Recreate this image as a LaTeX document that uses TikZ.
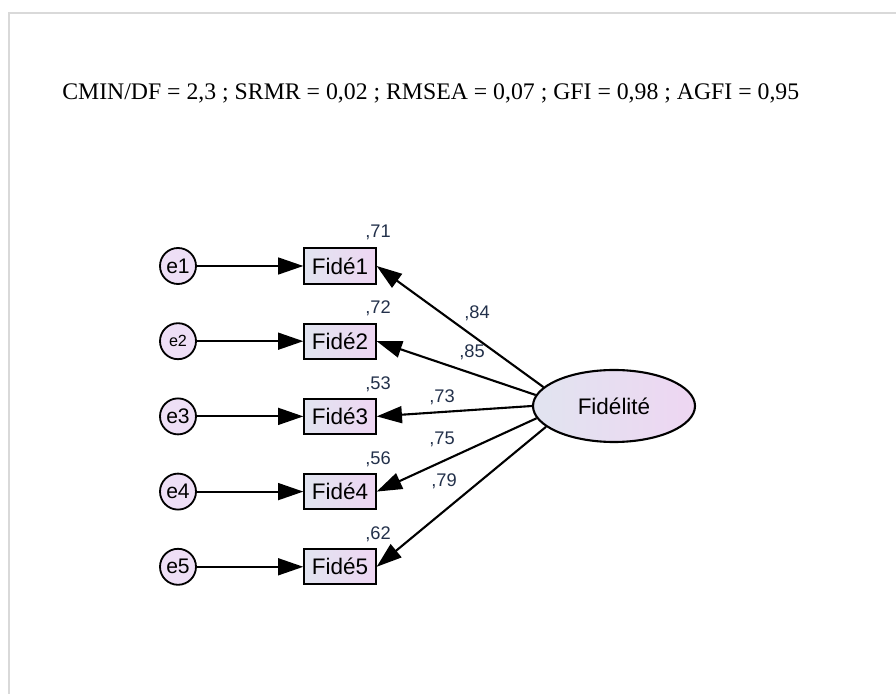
\documentclass[tikz,border=0pt]{standalone}
\usepackage{fontspec}
\setmainfont{Liberation Serif}
\newfontfamily\amosfont{Liberation Sans}
\usetikzlibrary{arrows.meta,shapes.geometric}
\definecolor{framegray}{HTML}{D9D9D9}
\definecolor{boxleft}{HTML}{E1E4F0}
\definecolor{boxright}{HTML}{EED6F2}
\definecolor{errfill}{HTML}{EEDFF6}
\definecolor{numcol}{HTML}{22304A}
\begin{document}
\begin{tikzpicture}[
    obs/.style={draw, line width=1.5pt, rectangle, minimum width=1.78cm, minimum height=0.88cm,
      left color=boxleft, right color=boxright, inner sep=0pt, font=\amosfont\fontsize{16}{17}\selectfont},
    err/.style={draw, line width=1.3pt, circle, minimum size=0.9cm, inner sep=0pt,
      fill=errfill, font=\amosfont\fontsize{15}{16}\selectfont},
    lat/.style={draw, line width=1.5pt, ellipse, minimum width=4.05cm, minimum height=1.8cm,
      left color=boxleft, right color=boxright, font=\amosfont\fontsize{16}{17}\selectfont},
    num/.style={inner sep=0pt, text=numcol, font=\amosfont\fontsize{13}{14}\selectfont},
    path/.style={line width=1.5pt, -{Triangle[length=18pt,width=12pt]}}]
    \useasboundingbox (0,0) rectangle (22.4,17.35);
    \draw[framegray, line width=1.6pt] (0.225,0) -- (0.225,17.025) -- (22.4,17.025);
    \node[anchor=base west, inner sep=0pt, font=\fontsize{16.9}{18}\selectfont] (fit) at (1.55,14.85)
      {CMIN/DF = 2,3 ; SRMR = 0,02 ; RMSEA = 0,07 ; GFI = 0,98 ; AGFI = 0,95};
    % indicateurs
    \node[obs] (f1) at (8.5,10.7) {Fidé1}; \node[err] (e1) at (4.45,10.7) {e1};
    \node[obs] (f2) at (8.5,8.82) {Fidé2}; \node[err, font=\amosfont\fontsize{11.5}{12}\selectfont] (e2) at (4.45,8.82) {e2};
    \node[obs] (f3) at (8.5,6.94) {Fidé3}; \node[err] (e3) at (4.45,6.94) {e3};
    \node[obs] (f4) at (8.5,5.06) {Fidé4}; \node[err] (e4) at (4.45,5.06) {e4};
    \node[obs] (f5) at (8.5,3.18) {Fidé5}; \node[err] (e5) at (4.45,3.18) {e5};
    \node[lat] (fid) at (15.35,7.2) {Fidélité};
    % R2
    \node[num] (r1) at (9.45,11.55) {,71};
    \node[num] (r2) at (9.45,9.65) {,72};
    \node[num] (r3) at (9.45,7.75) {,53};
    \node[num] (r4) at (9.45,5.875) {,56};
    \node[num] (r5) at (9.45,4.0) {,62};
    % saturations
    \node[num] (l1) at (11.925,9.525) {,84};
    \node[num] (l2) at (11.8,8.55) {,85};
    \node[num] (l3) at (11.05,7.425) {,73};
    \node[num] (l4) at (11.05,6.375) {,75};
    \node[num] (l5) at (11.1,5.325) {,79};
    \foreach \i in {1,...,5} {\draw[path] (e\i) -- (f\i);}
    \draw[path] (fid.165) -- (f1.east);
    \draw[path] (fid.172) -- (f2.east);
    \draw[path] (fid.180) -- (f3.east);
    \draw[path] (fid.189) -- (f4.east);
    \draw[path] (fid.197) -- (f5.east);
\end{tikzpicture}
\end{document}
